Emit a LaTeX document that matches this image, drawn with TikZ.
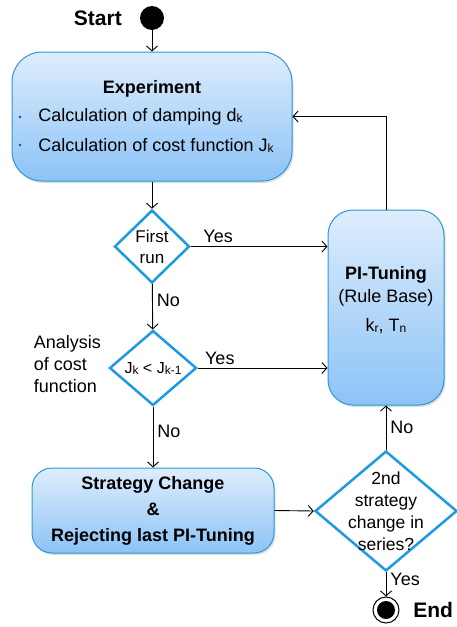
\documentclass[tikz,border=0pt]{standalone}
\usepackage{fontspec}
\setmainfont{Liberation Sans}
\definecolor{boxline}{RGB}{45,150,215}
\definecolor{boxtop}{RGB}{222,237,252}
\definecolor{boxbottom}{RGB}{140,195,246}
\definecolor{decline}{RGB}{28,155,226}
\definecolor{bulletblue}{RGB}{40,60,170}
\usetikzlibrary{positioning,shapes.geometric,shadows,arrows.meta}
\newcommand{\sk}[1]{\raisebox{-1pt}{\fontsize{12}{14}\selectfont #1}}

\begin{document}
\begin{tikzpicture}[x=1pt,y=-1pt,
    >={Straight Barb[length=5pt,width=11pt]},
    every node/.style={font=\fontsize{18}{22}\selectfont},
    every path/.style={line width=0.9pt},
    state/.style={draw=boxline, line width=1pt, inner sep=0pt,
        top color=boxtop, bottom color=boxbottom,
        drop shadow={opacity=0.25, shadow xshift=1.5pt, shadow yshift=-2pt}},
    decision/.style={diamond, draw=decline, line width=2.5pt, fill=white, inner sep=0pt},
    lbl/.style={inner sep=1pt}]
    \useasboundingbox (0,0) rectangle (456,627);

    % start and end
    \node[circle, fill=black, minimum size=24pt, inner sep=0pt] (start) at (152,18) {};
    \node[left=14pt of start, font=\fontsize{21}{24}\selectfont\bfseries] (starttxt) {Start};

    % experiment
    \node[state, rounded corners=30pt, minimum width=280pt, minimum height=129pt] (exp) at (152,116.5) {};
    \node[font=\fontsize{18}{22}\selectfont\bfseries] (exptitle) at (152,89) {Experiment};
    \node[anchor=west, inner sep=0pt] (expa) at (38,117) {Calculation of damping d\sk{k}};
    \node[anchor=west, inner sep=0pt] (expb) at (38,145) {Calculation of cost function J\sk{k}};
    \fill[bulletblue] (20,117) circle (1.3);
    \fill[bulletblue] (20,145) circle (1.3);

    % decisions
    \node[decision, minimum width=75pt, minimum height=73pt,
        label={[align=center, font=\fontsize{17}{21}\selectfont]center:First\\run}] (first) at (152,246.5) {};
    \node[decision, minimum width=87pt, minimum height=75pt,
        label={[font=\fontsize{16}{18}\selectfont]center:J\sk{k} < J\sk{k-1}}] (cost) at (153,368) {};
    \node[anchor=west, align=left] (anatxt) at (30,364) {Analysis\\of cost\\function};

    % pi tuning
    \node[state, rounded corners=25pt, minimum width=116pt, minimum height=195pt] (pi) at (386,307.5) {};
    \node[font=\fontsize{18}{22}\selectfont\bfseries] (pititle) at (386,275) {PI-Tuning};
    \node (pibase) at (386,298) {(Rule Base)};
    \node (piparam) at (386,326) {k\sk{r}, T\sk{n}};

    % strategy change
    \node[state, rounded corners=20pt, minimum width=242pt, minimum height=85pt] (strat) at (153,510.5) {};
    \node[align=center, font=\fontsize{18}{26}\selectfont\bfseries] (strattxt) at (153,511) {Strategy Change\\\&\\Rejecting last PI-Tuning};
    \node[decision, minimum width=142pt, minimum height=120pt,
        label={[align=center, font=\fontsize{17.5}{22}\selectfont]center:2nd\\strategy\\change in\\series?}] (series) at (386,511) {};

    \node[circle, draw=black, line width=1pt, fill=white, minimum size=26pt, inner sep=0pt] (end) at (386,610) {};
    \node[circle, fill=black, minimum size=18pt, inner sep=0pt] (endin) at (386,610) {};
    \node[right=10pt of end, font=\fontsize{21}{24}\selectfont\bfseries] (endtxt) {End};

    % connectors
    \draw[->] (start) -- (exp);
    \draw[->] (exp) -- (first);
    \draw[->] (first.east) -- node[pos=0.2, above=2pt, lbl] {Yes} (first.east -| pi.west);
    \draw[->] (first) -- node[pos=0.35, right=3pt, lbl] {No} (cost);
    \draw[->] (cost.east) -- node[pos=0.17, above=2pt, lbl] {Yes} (cost.east -| pi.west);
    \draw[->] (cost) -- node[pos=0.4, right=3pt, lbl] {No} (strat);
    \draw[->] (strat.east) -- (series.west);
    \draw[->] (series) -- node[pos=0.5, right=3pt, lbl] {No} (pi);
    \draw[->] (pi.north) |- (exp.east);
    \draw[->] (series) -- node[pos=0.3, right=3pt, lbl] {Yes} (end);
\end{tikzpicture}
\end{document}
